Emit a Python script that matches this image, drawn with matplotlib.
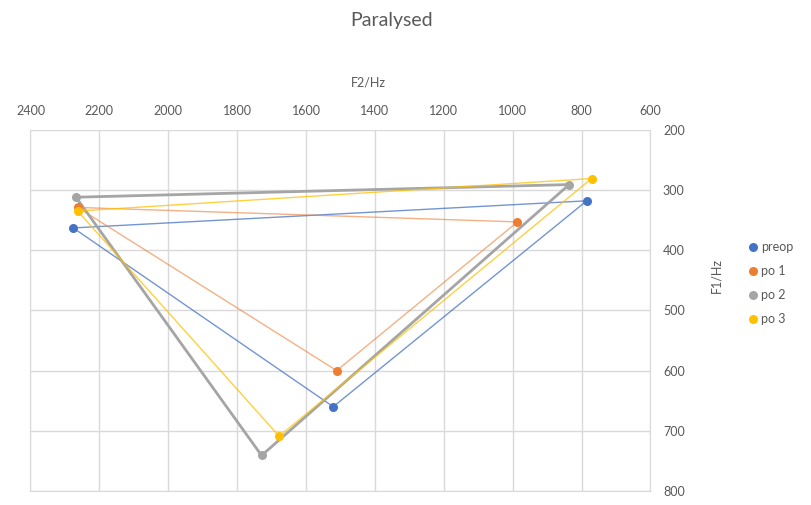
import matplotlib
matplotlib.use("Agg")
import matplotlib.pyplot as plt
from matplotlib.lines import Line2D

# vowel triangles: corner order  i -> a -> u  (closed back to i)
series_names = ["preop", "po 1", "po 2", "po 3"]
f2_preop = [2276, 1521, 785]
f1_preop = [363, 660, 318]
f2_po1 = [2263, 1511, 986]
f1_po1 = [329, 600, 353]
f2_po2 = [2268, 1729, 836]
f1_po2 = [312, 741, 291]
f2_po3 = [2263, 1678, 771]
f1_po3 = [335, 709, 281]

x_ticks = [2400, 2200, 2000, 1800, 1600, 1400, 1200, 1000, 800, 600]
y_ticks = [200, 300, 400, 500, 600, 700, 800]

colors = ["#4472C4", "#ED7D31", "#A5A5A5", "#FFC000"]
line_w = [1.0, 1.0, 2.0, 1.0]
line_a = [0.75, 0.6, 1.0, 0.75]

plt.rcParams['font.family'] = ['Lato', 'DejaVu Sans']
txt_col = "#595959"

fig = plt.figure(figsize=(8.11, 5.05), dpi=100)
ax = fig.add_axes([0.0376, 0.0277, 0.7644, 0.7153])

all_f2 = [f2_preop, f2_po1, f2_po2, f2_po3]
all_f1 = [f1_preop, f1_po1, f1_po2, f1_po3]
for i in range(4):
    xs = all_f2[i] + [all_f2[i][0]]
    ys = all_f1[i] + [all_f1[i][0]]
    ax.plot(xs, ys, color=colors[i], lw=line_w[i], alpha=line_a[i], zorder=2 + i)
    ax.plot(all_f2[i], all_f1[i], "o", color=colors[i], ms=6.5, mec="none", zorder=10 + i)

ax.set_xlim(2400, 600)
ax.set_ylim(800, 200)
ax.set_xticks(x_ticks)
ax.set_yticks(y_ticks)
ax.xaxis.tick_top()
ax.yaxis.tick_right()
ax.tick_params(length=0, labelsize=9, colors=txt_col, pad=9)
ax.grid(True, color="#D9D9D9", lw=1)
ax.set_axisbelow(True)
for s in ax.spines.values():
    s.set_color("#D9D9D9")
ax.spines["top"].set_visible(False)

fig.text(0.483, 0.960, "Paralysed", ha="center", va="center", fontsize=14, color=txt_col)
fig.text(0.454, 0.836, "F2/Hz", ha="center", va="center", fontsize=9, color=txt_col)
fig.text(0.883, 0.455, "F1/Hz", ha="center", va="center", rotation=90, fontsize=9, color=txt_col)

handles = [Line2D([], [], ls="none", marker="o", ms=6.5, mec="none", color=c) for c in colors]
leg = fig.legend(handles, series_names, loc="upper left", bbox_to_anchor=(0.918, 0.532),
                 frameon=False, fontsize=9, handlelength=0.6, handletextpad=0.3,
                 labelspacing=0.95, borderaxespad=0)
for t in leg.get_texts():
    t.set_color(txt_col)

plt.savefig("out.png", dpi=100)
plt.close()
